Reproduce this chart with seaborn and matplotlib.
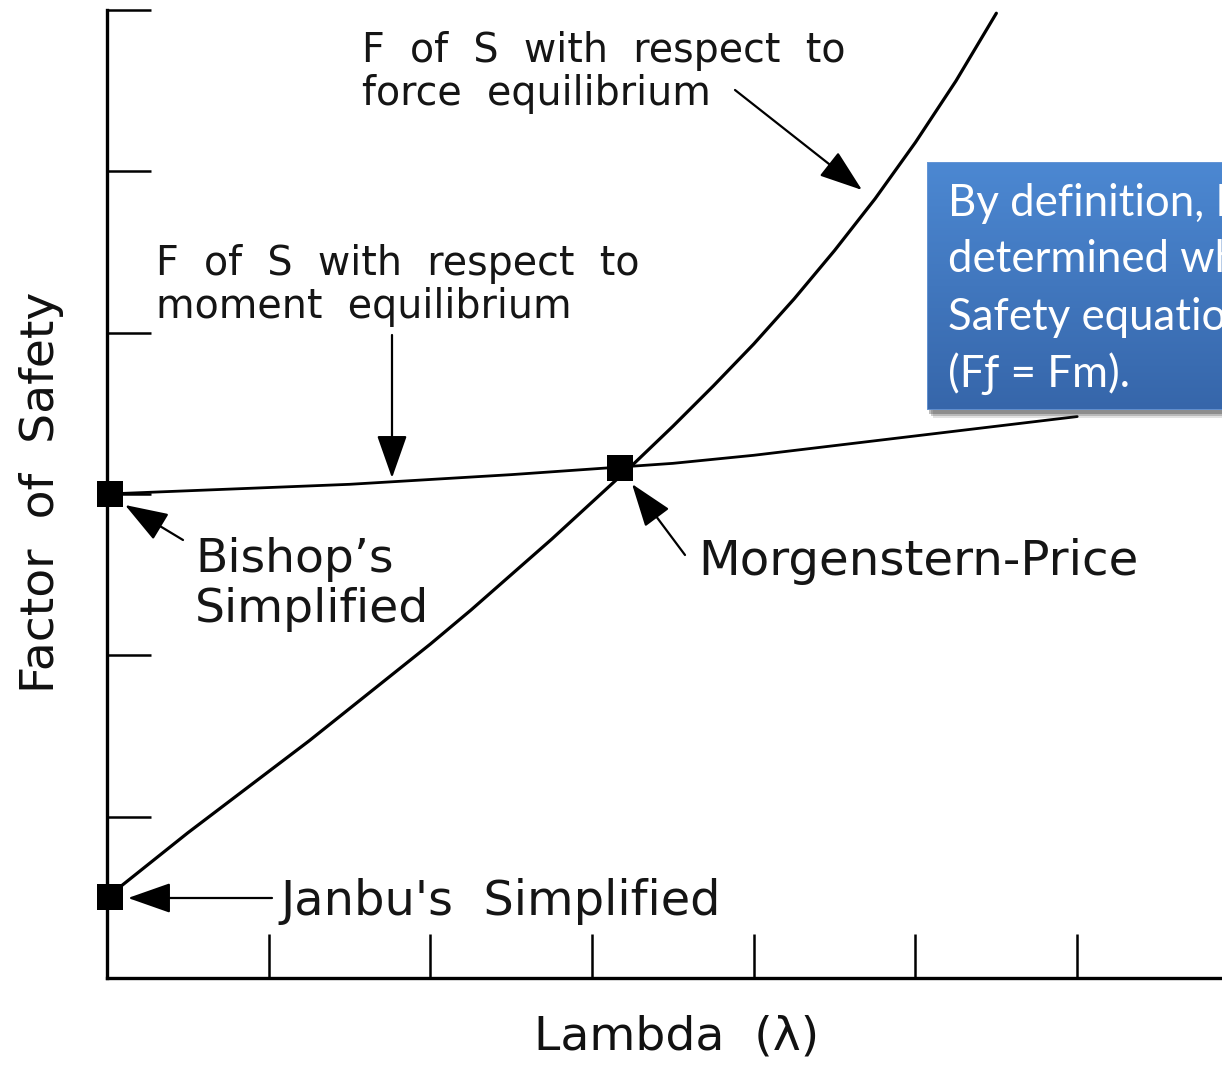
import numpy as np
import pandas as pd
import matplotlib
matplotlib.use("Agg")
import matplotlib.pyplot as plt
import seaborn as sns

# Factor of safety vs. lambda: force equilibrium curve
lam_force = [0.0, 0.25, 0.5, 0.75, 1.0, 1.25, 1.5, 1.75, 2.0, 2.25, 2.5, 2.75,
             3.0, 3.25, 3.5, 3.75, 4.0, 4.25, 4.5, 4.75, 5.0, 5.25, 5.5]
fs_force = [0.50, 0.70, 0.90, 1.09, 1.28, 1.47, 1.67, 1.87, 2.07, 2.28, 2.50, 2.72,
            2.95, 3.18, 3.42, 3.67, 3.93, 4.21, 4.51, 4.83, 5.18, 5.56, 5.98]

# moment equilibrium curve
lam_moment = [0.0, 0.5, 1.0, 1.5, 2.0, 2.5, 3.0, 3.5, 4.0, 4.5, 5.0, 5.5, 6.0]
fs_moment = [3.00, 3.02, 3.04, 3.06, 3.09, 3.12, 3.155, 3.19, 3.24, 3.30, 3.36, 3.42, 3.48]

# Named solutions
method_names = ["Janbu's Simplified", "Bishop's Simplified", "Morgenstern-Price"]
method_lam = [0.02, 0.02, 3.17]
method_fs = [0.50, 3.00, 3.16]

x_ticks = [1, 2, 3, 4, 5, 6, 7]
y_ticks = [1, 2, 3, 4, 5, 6]

sns.set_style("white")
plt.rcParams["font.family"] = ["DejaVu Sans"]

W, H = 1222, 1065
fig = plt.figure(figsize=(W / 100, H / 100), dpi=100)
fig.patch.set_facecolor("white")

x0, y_bot, y_top = 107, 978, 10
x_end = 107 + 7 * 161.7
ax = fig.add_axes([x0 / W, (H - y_bot) / H, (x_end - x0) / W, (y_bot - y_top) / H])
ax.set_facecolor("white")
ax.set_xlim(0, 7)
ax.set_ylim(0, 6)

df_force = pd.DataFrame({"lam": lam_force, "fs": fs_force})
df_moment = pd.DataFrame({"lam": lam_moment, "fs": fs_moment})
df_pts = pd.DataFrame({"lam": method_lam, "fs": method_fs, "method": method_names})

sns.lineplot(data=df_force, x="lam", y="fs", ax=ax, color="black", lw=2.3,
             sort=False, clip_on=False)
sns.lineplot(data=df_moment, x="lam", y="fs", ax=ax, color="black", lw=2.0,
             sort=False, clip_on=False)
sns.scatterplot(data=df_pts, x="lam", y="fs", ax=ax, marker="s", s=330,
                color="black", edgecolor="black", linewidth=0, clip_on=False,
                zorder=5, legend=False)

# axes frame: left and bottom only, long inward ticks
for side in ["top", "right"]:
    ax.spines[side].set_visible(False)
for side in ["left", "bottom"]:
    ax.spines[side].set_linewidth(2.4)
    ax.spines[side].set_color("black")
ax.set_xticks(x_ticks)
ax.set_yticks(y_ticks)
ax.tick_params(direction="in", length=32, width=1.8, color="black",
               labelleft=False, labelbottom=False, left=True, bottom=True)

ax.set_xlabel("Lambda  (λ)", fontsize=34, color="#111111")
ax.set_ylabel("Factor  of  Safety", fontsize=34, color="#111111")
ax.xaxis.set_label_coords((677 - x0) / (x_end - x0), (y_bot - 1037) / (y_bot - y_top))
ax.yaxis.set_label_coords((42 - x0) / (x_end - x0), (y_bot - 492) / (y_bot - y_top))
ax.xaxis.label.set_va("center")
ax.yaxis.label.set_va("center")


def px(xp, yp):
    """Convert pixel position on the canvas to data coordinates."""
    return ((xp - x0) / 161.7, (y_bot - yp) / 161.33)


arrow = dict(arrowstyle="-|>,head_length=2.7,head_width=0.95", color="black",
             lw=1.6, shrinkA=0, shrinkB=0)
ink = "#151515"

# force-equilibrium label (baseline of last line)
ax.text(*px(362, 105), "F  of  S  with  respect  to\nforce  equilibrium", fontsize=28.5,
        color=ink, ha="left", va="baseline", linespacing=1.09)
ax.annotate("", xy=px(862, 190), xytext=px(735, 90), arrowprops=arrow)

# moment-equilibrium label
ax.text(*px(156, 318), "F  of  S  with  respect  to\nmoment  equilibrium", fontsize=28.5,
        color=ink, ha="left", va="baseline", linespacing=1.09)
ax.annotate("", xy=px(392, 478), xytext=px(392, 335), arrowprops=arrow)

# method labels
ax.text(*px(195, 622), "Bishop’s\nSimplified", fontsize=34, color=ink,
        ha="left", va="baseline", linespacing=1.13)
ax.annotate("", xy=px(125, 505), xytext=px(183, 540), arrowprops=arrow)

ax.text(*px(698, 575), "Morgenstern-Price", fontsize=34.8, color=ink,
        ha="left", va="baseline")
ax.annotate("", xy=px(632, 484), xytext=px(685, 555), arrowprops=arrow)

ax.text(*px(280, 915), "Janbu's  Simplified", fontsize=34.5, color=ink,
        ha="left", va="baseline")
ax.annotate("", xy=px(128, 898), xytext=px(272, 898), arrowprops=arrow)

# callout box with gradient fill and soft shadow
bx0, by0, bx1, by1 = 927, 162, 1240, 410
for off, alpha in [(8, 0.15), (6, 0.25), (4, 0.35)]:
    sh = fig.add_axes([(bx0 + off - 2) / W, (H - by1 - off) / H,
                       (bx1 - bx0) / W, (by1 - by0) / H])
    sh.set_axis_off()
    sh.add_patch(plt.Rectangle((0, 0), 1, 1, transform=sh.transAxes,
                               color="#404040", alpha=alpha, lw=0))

box = fig.add_axes([bx0 / W, (H - by1) / H, (bx1 - bx0) / W, (by1 - by0) / H])
box.set_axis_off()
top_col = np.array([76, 136, 210]) / 255
bot_col = np.array([54, 102, 170]) / 255
t = np.linspace(0, 1, 256)[:, None]
grad = (top_col[None, :] * (1 - t) + bot_col[None, :] * t)[:, None, :]
box.imshow(grad, aspect="auto", extent=(0, 1, 0, 1), origin="upper")
box.set_xlim(0, 1)
box.set_ylim(0, 1)
box.add_patch(plt.Rectangle((0, 0), 1, 1, transform=box.transAxes, fill=False,
                            ec="#6a98d6", lw=1.2))

box_lines = ["By definition, FS is", "determined when both Factor of",
             "Safety equations are equal", "(Fƒ = Fm)."]
for i, line in enumerate(box_lines):
    yc = 203 + i * 57
    box.text((948 - bx0) / (bx1 - bx0), (by1 - yc) / (by1 - by0), line,
             transform=box.transAxes, fontsize=31.5, color="white",
             family=["Lato", "DejaVu Sans"], ha="left", va="center", clip_on=True)

fig.savefig("out.png", dpi=100, facecolor="white")
